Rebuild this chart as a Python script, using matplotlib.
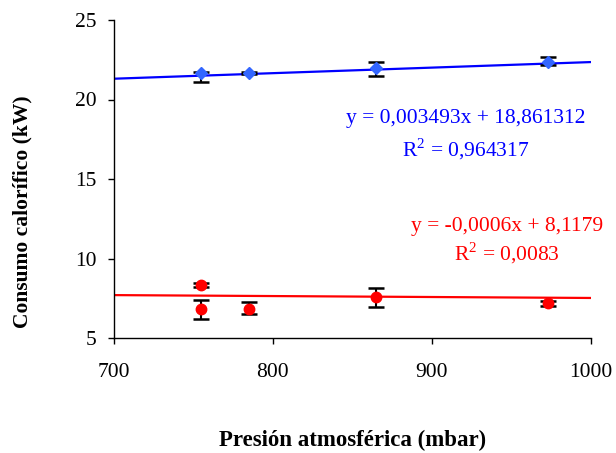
import matplotlib
matplotlib.use("Agg")
import matplotlib.pyplot as plt
import numpy as np

# Data
blue_x = [755, 785, 865, 973]
blue_y = [21.65, 21.69, 21.96, 22.34]
blue_err_low = [0.53, 0.07, 0.48, 0.17]
blue_err_high = [0.08, 0.04, 0.38, 0.31]

red_x = [755, 755, 785, 865, 973]
red_y = [8.33, 6.80, 6.80, 7.56, 7.18]
red_err_low = [0.14, 0.62, 0.31, 0.63, 0.15]
red_err_high = [0.11, 0.59, 0.45, 0.60, 0.15]

blue_slope, blue_intercept = 0.003493, 18.861312
red_slope, red_intercept = -0.0006, 8.1179

blue_eq = "y = 0,003493x + 18,861312"
blue_r2 = "R$^2$ = 0,964317"
red_eq = "y = -0,0006x + 8,1179"
red_r2 = "R$^2$ = 0,0083"

x_ticks = [700, 800, 900, 1000]
y_ticks = [5, 10, 15, 20, 25]

plt.rcParams['font.family'] = ['Liberation Serif', 'DejaVu Serif']
plt.rcParams['mathtext.fontset'] = 'custom'
plt.rcParams['mathtext.rm'] = 'Liberation Serif'

fig = plt.figure(figsize=(6.16, 4.53), dpi=100)
ax = fig.add_axes([113.5/616, 1-338/453, (591-113.5)/616, (338-20)/453])

xl = np.array([700, 1000])
ax.plot(xl, blue_slope*xl + blue_intercept, color='#0000FF', lw=1.6, zorder=2)
ax.plot(xl, red_slope*xl + red_intercept, color='#FF0000', lw=1.6, zorder=2)

ax.errorbar(blue_x, blue_y, yerr=[blue_err_low, blue_err_high], fmt='none',
            ecolor='black', elinewidth=1.5, capsize=5.5, capthick=1.8, zorder=3)
ax.errorbar(red_x, red_y, yerr=[red_err_low, red_err_high], fmt='none',
            ecolor='black', elinewidth=1.5, capsize=5.5, capthick=1.8, zorder=3)
ax.plot(blue_x, blue_y, 'D', color='#3366FF', markersize=6.5, mec='#3366FF', zorder=4)
ax.plot(red_x, red_y, 'o', color='#FF0000', markersize=7.5, mec='#FF0000', zorder=4)

ax.set_xlim(700, 1000)
ax.set_ylim(5, 25)
ax.set_xticks(x_ticks)
ax.set_yticks(y_ticks)
ax.tick_params(direction='out', length=4, width=1, labelsize=15.5)
ax.tick_params(axis='y', pad=8)
ax.tick_params(axis='x', pad=14)
for s in ['top', 'right']:
    ax.spines[s].set_visible(False)
for s in ['left', 'bottom']:
    ax.spines[s].set_linewidth(1)

fig.text(353/616, 1-440/453, "Presión atmosférica (mbar)", ha='center', va='center',
         fontsize=16.5, fontweight='bold')
fig.text(22/616, 1-212/453, "Consumo calorífico (kW)", ha='center', va='center',
         fontsize=15.5, fontweight='bold', rotation=90)

fig.text(466/616, 1-118/453, blue_eq, ha='center', va='center', fontsize=15.5, color='#0000FF')
fig.text(466/616, 1-149/453, blue_r2, ha='center', va='center', fontsize=15.5, color='#0000FF')
fig.text(507/616, 1-226/453, red_eq, ha='center', va='center', fontsize=15.5, color='#FF0000')
fig.text(507/616, 1-253/453, red_r2, ha='center', va='center', fontsize=15.5, color='#FF0000')

fig.savefig("out.png", dpi=100)
